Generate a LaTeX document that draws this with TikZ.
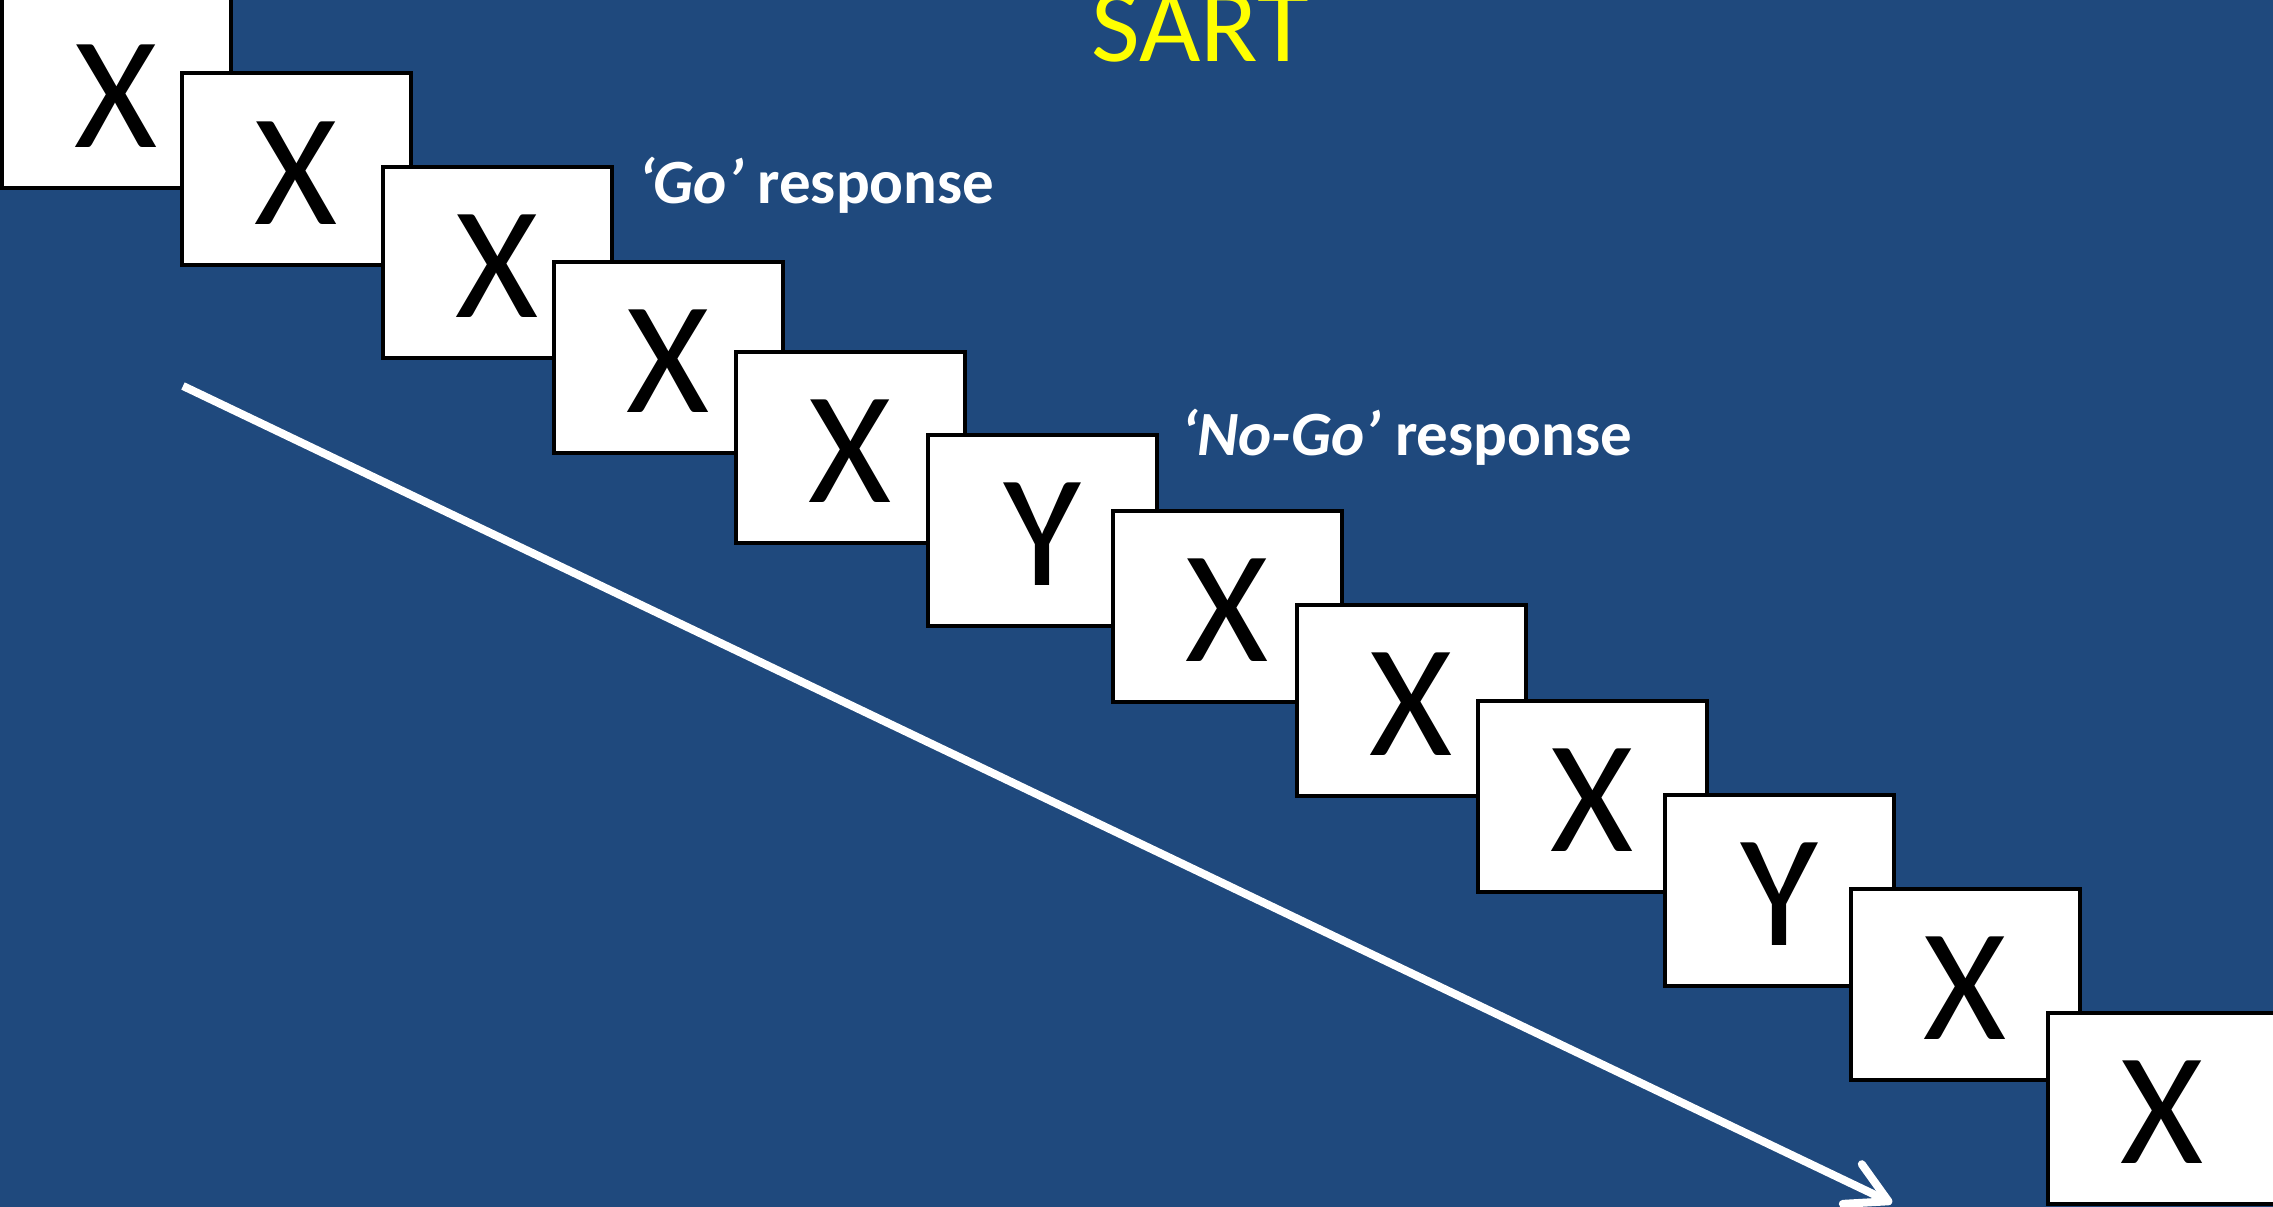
\documentclass[tikz,border=0pt]{standalone}
\usepackage{fontspec}
\setmainfont{Carlito}
\usetikzlibrary{arrows.meta}
\definecolor{slideblue}{HTML}{1F497D}
\definecolor{titleyellow}{HTML}{FFFF00}
\begin{document}
\begin{tikzpicture}[x=1pt,y=-1pt,
  card/.style={draw=black, fill=white, line width=4pt, minimum width=229pt,
    minimum height=191pt, inner sep=0pt, outer sep=0pt},
  glyph/.style={font=\fontsize{160}{160}\selectfont, inner sep=0pt, text=black},
  cue/.style={font=\bfseries\fontsize{63}{63}\selectfont, text=white, inner sep=0pt, anchor=base west},
  timeline/.style={draw=white, line width=8pt,
    -{Straight Barb[length=40pt, width=44pt, round]}}
]
% slide background
\fill[slideblue] (0,0) rectangle (2273,1207);
\useasboundingbox (0,0) rectangle (2273,1207);

% title
\node[font=\fontsize{106}{106}\selectfont, text=titleyellow, inner sep=0pt, anchor=base]
  (title) at (1200,62) {SART};

% stimulus sequence, each card laid over the previous one
\foreach \i/\cx/\cy/\c in {1/116/92/X, 2/296/169/X, 3/497/262/X, 4/668/357/X,
    5/850/447/X, 6/1042/530/Y, 7/1227/606/X, 8/1411/700/X, 9/1592/796/X,
    10/1779/890/Y, 11/1965/984/X, 12/2162/1108/X} {
  \node[card] (card\i) at (\cx,\cy) {};
  \node[glyph] (sym\i) at ([yshift=-4pt]card\i.center) {\c};
}

% response labels
\node[cue] (golabel) at (638,203) {\textit{‘Go’} response};
\node[cue] (nogolabel) at (1181,455) {\textit{‘No-Go’} response};

% time axis
\coordinate (timestart) at (183,386);
\coordinate (timeend) at (1892,1203);
\draw[timeline] (timestart) -- (timeend);
\end{tikzpicture}
\end{document}
